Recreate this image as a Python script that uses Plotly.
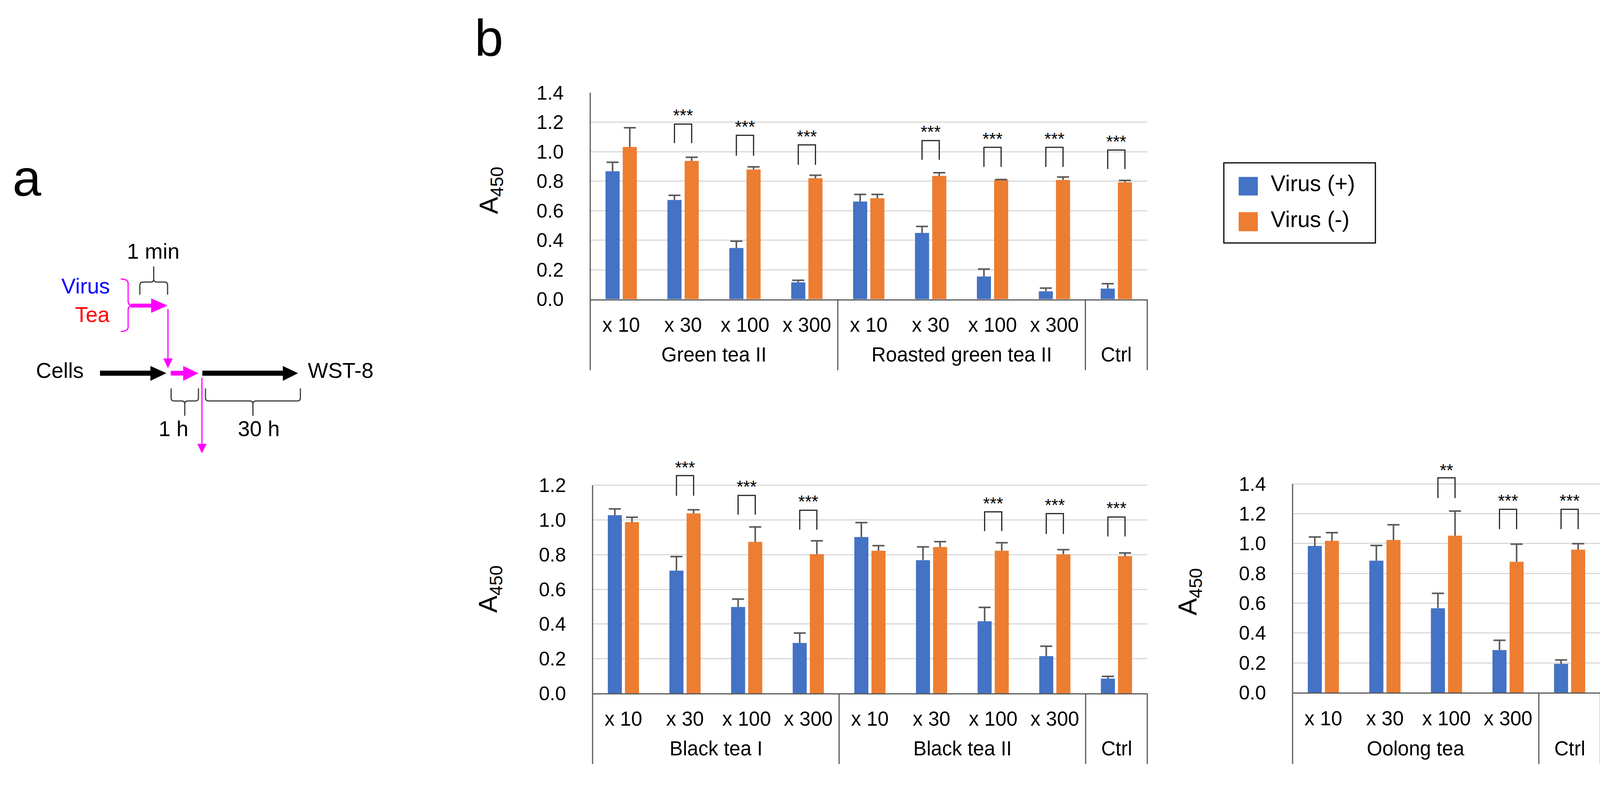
import plotly.graph_objects as go

W, H = 4132, 2019
FONT = "Arial, Liberation Sans, Helvetica, sans-serif"
BLUE, ORANGE = "#4472C4", "#ED7D31"
ERR_C, AX_C, GRID_C, BR_C = "#595959", "#595959", "#D9D9D9", "#262626"
MAGENTA = "#FF00FF"
BARGAP, BARGROUPGAP = 0.444, 0.18

dilutions = ["x 10", "x 30", "x 100", "x 300"]

# ---- panel b, top chart
top_groups = ["Green tea II", "Roasted green tea II", "Ctrl"]
top_group_sizes = [4, 4, 1]
top_virus_pos = [0.867, 0.672, 0.347, 0.114, 0.662, 0.449, 0.154, 0.053, 0.072]
top_virus_pos_err = [0.061, 0.032, 0.046, 0.014, 0.048, 0.044, 0.050, 0.022, 0.033]
top_virus_neg = [1.032, 0.937, 0.879, 0.820, 0.684, 0.836, 0.808, 0.808, 0.792]
top_virus_neg_err = [0.130, 0.025, 0.018, 0.020, 0.026, 0.021, 0.003, 0.020, 0.013]
top_sig_index = [1, 2, 3, 5, 6, 7, 8]
top_sig_label = ["***", "***", "***", "***", "***", "***", "***"]
top_sig_leg = [1.058, 0.972, 0.911, 0.945, 0.897, 0.897, 0.882]
top_sig_bar = [1.187, 1.111, 1.046, 1.075, 1.029, 1.029, 1.011]
top_sig_text = [1.259, 1.183, 1.117, 1.147, 1.101, 1.100, 1.082]

# ---- panel b, bottom-left chart
bl_groups = ["Black tea I", "Black tea II", "Ctrl"]
bl_group_sizes = [4, 4, 1]
bl_virus_pos = [1.028, 0.708, 0.498, 0.291, 0.902, 0.768, 0.416, 0.215, 0.085]
bl_virus_pos_err = [0.036, 0.081, 0.046, 0.057, 0.083, 0.077, 0.080, 0.057, 0.013]
bl_virus_neg = [0.988, 1.038, 0.874, 0.803, 0.823, 0.844, 0.823, 0.802, 0.792]
bl_virus_neg_err = [0.028, 0.021, 0.086, 0.077, 0.029, 0.031, 0.046, 0.027, 0.018]
bl_sig_index = [1, 2, 3, 6, 7, 8]
bl_sig_label = ["***", "***", "***", "***", "***", "***"]
bl_sig_leg = [1.140, 1.031, 0.944, 0.936, 0.919, 0.905]
bl_sig_bar = [1.256, 1.142, 1.056, 1.047, 1.037, 1.017]
bl_sig_text = [1.314, 1.203, 1.119, 1.107, 1.098, 1.079]

# ---- panel b, bottom-right chart
br_groups = ["Oolong tea", "Ctrl"]
br_group_sizes = [4, 1]
br_virus_pos = [0.984, 0.885, 0.566, 0.285, 0.193]
br_virus_pos_err = [0.060, 0.102, 0.100, 0.066, 0.026]
br_virus_neg = [1.018, 1.024, 1.053, 0.878, 0.959]
br_virus_neg_err = [0.055, 0.102, 0.165, 0.118, 0.040]
br_sig_index = [2, 3, 4]
br_sig_label = ["**", "***", "***"]
br_sig_leg = [1.305, 1.097, 1.097]
br_sig_bar = [1.441, 1.230, 1.230]
br_sig_text = [1.506, 1.300, 1.300]

legend_names = ["Virus (+)", "Virus (-)"]

charts = [
    dict(groups=top_groups, sizes=top_group_sizes, pos=top_virus_pos, pos_err=top_virus_pos_err,
         neg=top_virus_neg, neg_err=top_virus_neg_err, sig_i=top_sig_index, sig_l=top_sig_label,
         sig_leg=top_sig_leg, sig_bar=top_sig_bar, sig_txt=top_sig_text,
         x0=1511, x1=2937, y0px=759, per02=77.7, ymax=1.4, ytop=1.4,
         group_px=905, div_px=946, title_x=1256, title_y=473),
    dict(groups=bl_groups, sizes=bl_group_sizes, pos=bl_virus_pos, pos_err=bl_virus_pos_err,
         neg=bl_virus_neg, neg_err=bl_virus_neg_err, sig_i=bl_sig_index, sig_l=bl_sig_label,
         sig_leg=bl_sig_leg, sig_bar=bl_sig_bar, sig_txt=bl_sig_text,
         x0=1517, x1=2937, y0px=1797, per02=91.3, ymax=1.4, ytop=1.2,
         group_px=1942, div_px=1983, title_x=1254, title_y=1523),
    dict(groups=br_groups, sizes=br_group_sizes, pos=br_virus_pos, pos_err=br_virus_pos_err,
         neg=br_virus_neg, neg_err=br_virus_neg_err, sig_i=br_sig_index, sig_l=br_sig_label,
         sig_leg=br_sig_leg, sig_bar=br_sig_bar, sig_txt=br_sig_text,
         x0=3309, x1=4097, y0px=1795, per02=78.5, ymax=1.6, ytop=1.4,
         group_px=1942, div_px=1983, title_x=3045, title_y=1530),
]


def PX(x):
    return x / W


def PY(y):
    return 1 - y / H


def P(x, y):
    return f"{PX(x):.6f},{PY(y):.6f}"


fig = go.Figure()
shapes = []
annotations = []
layout_axes = {}

for k, c in enumerate(charts, start=1):
    sfx = "" if k == 1 else str(k)
    xa, ya = "x" + sfx, "y" + sfx
    n = len(c["pos"])
    idx = list(range(n))
    off = (1 - BARGAP) / 4.0

    for vals, errs, col, nm, sgn in [(c["pos"], c["pos_err"], BLUE, legend_names[0], -1),
                                     (c["neg"], c["neg_err"], ORANGE, legend_names[1], 1)]:
        fig.add_trace(go.Bar(
            x=idx, y=vals, name=nm, marker=dict(color=col, line=dict(width=0)),
            error_y=dict(type="data", array=errs, arrayminus=[0] * n, symmetric=False,
                         width=0, thickness=4, color=ERR_C),
            xaxis=xa, yaxis=ya, showlegend=False, hoverinfo="y"))
        fig.add_trace(go.Scatter(
            x=[i + sgn * off for i in idx], y=[v + e for v, e in zip(vals, errs)],
            mode="markers", marker=dict(symbol="line-ew", size=22, color=ERR_C,
                                        line=dict(width=4, color=ERR_C)),
            xaxis=xa, yaxis=ya, showlegend=False, cliponaxis=False, hoverinfo="skip"))

    # significance brackets
    bx, by = [], []
    for i, lo, hi in zip(c["sig_i"], c["sig_leg"], c["sig_bar"]):
        bx += [i - off, i - off, i + off, i + off, None]
        by += [lo, hi, hi, lo, None]
    fig.add_trace(go.Scatter(x=bx, y=by, mode="lines", line=dict(color=BR_C, width=3),
                             xaxis=xa, yaxis=ya, showlegend=False, hoverinfo="skip"))
    shift = 10.0 / c["per02"] * 0.2
    fig.add_trace(go.Scatter(x=c["sig_i"], y=[t - shift for t in c["sig_txt"]], text=c["sig_l"],
                             mode="text", textposition="middle center",
                             textfont=dict(size=44, color="black", family=FONT),
                             xaxis=xa, yaxis=ya, showlegend=False, cliponaxis=False,
                             hoverinfo="skip"))

    # axes
    tickvals, ticktext = [], []
    start = 0
    centers = []
    for g, s in zip(c["groups"], c["sizes"]):
        if s > 1:
            tickvals += list(range(start, start + s))
            ticktext += dilutions[:s]
        centers.append(start + (s - 1) / 2.0)
        start += s
    ytop_px = c["y0px"] - c["ymax"] / 0.2 * c["per02"]
    nt = int(round(c["ytop"] / 0.2))
    yt = [round(0.2 * j, 1) for j in range(nt + 1)]
    layout_axes["xaxis" + sfx] = dict(
        domain=[PX(c["x0"]), PX(c["x1"])], range=[-0.5, n - 0.5], anchor=ya,
        tickmode="array", tickvals=tickvals, ticktext=ticktext, ticks="",
        showline=True, linecolor=AX_C, linewidth=3, showgrid=False, zeroline=False,
        tickfont=dict(size=51, color="black", family=FONT), ticklabelstandoff=19,
        fixedrange=True)
    layout_axes["yaxis" + sfx] = dict(
        domain=[PY(c["y0px"]), PY(ytop_px)], range=[0, c["ymax"]], anchor=xa,
        tickmode="array", tickvals=yt, ticktext=[f"{v:.1f}" for v in yt], ticks="",
        showline=False, showgrid=True, gridcolor=GRID_C, gridwidth=3, zeroline=False,
        tickfont=dict(size=50, color="black", family=FONT), ticklabelstandoff=67,
        fixedrange=True)

    # y axis line (to top tick) + dividers below category axis
    cat_px = (c["x1"] - c["x0"]) / n
    y_top_tick_px = c["y0px"] - c["ytop"] / 0.2 * c["per02"]
    shapes.append(dict(type="line", xref="paper", yref="paper",
                       x0=PX(c["x0"]), x1=PX(c["x0"]), y0=PY(y_top_tick_px), y1=PY(c["div_px"]),
                       line=dict(color=AX_C, width=3)))
    b = 0
    for s in c["sizes"]:
        b += s
        xb = c["x0"] + b * cat_px
        shapes.append(dict(type="line", xref="paper", yref="paper",
                           x0=PX(xb), x1=PX(xb), y0=PY(c["y0px"]), y1=PY(c["div_px"]),
                           line=dict(color=AX_C, width=3)))
    for g, cx in zip(c["groups"], centers):
        annotations.append(dict(text=g, xref=xa, yref="paper", x=cx, y=PY(c["group_px"]),
                                showarrow=False, xanchor="center", yanchor="middle",
                                font=dict(size=51, color="black", family=FONT)))
    annotations.append(dict(text="A<sub>450</sub>", xref="paper", yref="paper",
                            x=PX(c["title_x"]), y=PY(c["title_y"]), textangle=-90,
                            showarrow=False, xanchor="center", yanchor="middle",
                            font=dict(size=66, color="black", family=FONT)))

# ---- legend (top chart)
shapes.append(dict(type="rect", xref="paper", yref="paper", x0=PX(3133), x1=PX(3521),
                   y0=PY(611), y1=PY(400), line=dict(color="black", width=3), fillcolor="white"))
for (yy0, yy1), col, nm, ty in [((437, 486), BLUE, legend_names[0], 454),
                                ((530, 580), ORANGE, legend_names[1], 548)]:
    shapes.append(dict(type="rect", xref="paper", yref="paper", x0=PX(3171), x1=PX(3220),
                       y0=PY(yy1), y1=PY(yy0), line=dict(width=0), fillcolor=col))
    annotations.append(dict(text=nm, xref="paper", yref="paper", x=PX(3251), y=PY(ty),
                            showarrow=False, xanchor="left", yanchor="middle",
                            font=dict(size=57, color="black", family=FONT)))

# ---- panel labels
annotations.append(dict(text="a", xref="paper", yref="paper", x=PX(30), y=PY(440),
                        showarrow=False, xanchor="left", yanchor="middle",
                        font=dict(size=132, color="black", family=FONT)))
annotations.append(dict(text="b", xref="paper", yref="paper", x=PX(1213), y=PY(72),
                        showarrow=False, xanchor="left", yanchor="middle",
                        font=dict(size=132, color="black", family=FONT)))

# ---- panel a: schematic
def line(x0, y0, x1, y1, color, width):
    return dict(type="line", xref="paper", yref="paper", x0=PX(x0), y0=PY(y0),
                x1=PX(x1), y1=PY(y1), line=dict(color=color, width=width))


def tri(p0, p1, p2, color):
    return dict(type="path", xref="paper", yref="paper",
                path=f"M{P(*p0)} L{P(*p1)} L{P(*p2)} Z", fillcolor=color,
                line=dict(width=0))


def curve(path, color, width):
    return dict(type="path", xref="paper", yref="paper", path=path,
                line=dict(color=color, width=width))


BLK = "#000000"
BRACE = "#3A3A3A"
# thick timeline arrows
shapes += [
    line(256, 954, 388, 954, BLK, 13), tri((385, 935), (426, 954), (385, 974), BLK),
    line(437, 954, 472, 954, MAGENTA, 12), tri((469, 935), (508, 954), (469, 974), MAGENTA),
    line(518, 954, 727, 954, BLK, 13), tri((724, 935), (763, 954), (724, 974), BLK),
    # virus + tea arrow
    line(335, 776, 390, 776, MAGENTA, 10), tri((387, 757), (429, 776), (387, 795), MAGENTA),
    # thin downward arrows
    line(430, 785, 430, 918, MAGENTA, 3), tri((418, 915), (430, 941), (442, 915), MAGENTA),
    line(517, 966, 517, 1142, MAGENTA, 3), tri((505, 1140), (517, 1165), (529, 1140), MAGENTA),
]
# magenta brace "}"
shapes.append(curve(
    f"M{P(309,706)} Q{P(328,706)} {P(328,718)} L{P(328,764)} Q{P(328,776)} {P(340,776)} "
    f"M{P(340,776)} Q{P(328,776)} {P(328,788)} L{P(328,832)} Q{P(328,844)} {P(309,844)}",
    MAGENTA, 3))


def brace_up(x0, x1, yb, ym, yt, r=8):
    xc = (x0 + x1) / 2.0
    return (f"M{P(x0,yb)} L{P(x0,ym+r)} Q{P(x0,ym)} {P(x0+r,ym)} L{P(xc-r,ym)} "
            f"Q{P(xc,ym)} {P(xc,ym-r)} L{P(xc,yt)} M{P(xc,ym-r)} Q{P(xc,ym)} {P(xc+r,ym)} "
            f"L{P(x1-r,ym)} Q{P(x1,ym)} {P(x1,ym+r)} L{P(x1,yb)}")


def brace_down(x0, x1, yt, ym, yb, r=8):
    xc = (x0 + x1) / 2.0
    return (f"M{P(x0,yt)} L{P(x0,ym-r)} Q{P(x0,ym)} {P(x0+r,ym)} L{P(xc-r,ym)} "
            f"Q{P(xc,ym)} {P(xc,ym+r)} L{P(xc,yb)} M{P(xc,ym+r)} Q{P(xc,ym)} {P(xc+r,ym)} "
            f"L{P(x1-r,ym)} Q{P(x1,ym)} {P(x1,ym-r)} L{P(x1,yt)}")


shapes.append(curve(brace_up(358, 429, 747, 714, 673), BRACE, 3))
shapes.append(curve(brace_down(438, 508, 994, 1027, 1066), BRACE, 3))
shapes.append(curve(brace_down(526, 769, 994, 1027, 1066), BRACE, 3))

for txt, x, y, xan, col in [("1 min", 392, 633, "center", "black"),
                            ("Virus", 283, 724, "right", "#0000FF"),
                            ("Tea", 283, 800, "right", "#FF0000"),
                            ("Cells", 90, 947, "left", "black"),
                            ("WST-8", 786, 947, "left", "black"),
                            ("1 h", 444, 1100, "center", "black"),
                            ("30 h", 662, 1100, "center", "black")]:
    annotations.append(dict(text=txt, xref="paper", yref="paper", x=PX(x), y=PY(y),
                            showarrow=False, xanchor=xan, yanchor="middle",
                            font=dict(size=55, color=col, family=FONT)))

fig.update_layout(
    width=W, height=H, margin=dict(l=0, r=0, t=0, b=0, pad=0),
    paper_bgcolor="white", plot_bgcolor="white",
    barmode="group", bargap=BARGAP, bargroupgap=BARGROUPGAP,
    showlegend=False, font=dict(family=FONT, color="black"),
    shapes=shapes, annotations=annotations, **layout_axes)

fig.write_html("out.html", config={"displayModeBar": False},
               post_script="document.body.style.margin='0';document.body.style.overflow='hidden';")
